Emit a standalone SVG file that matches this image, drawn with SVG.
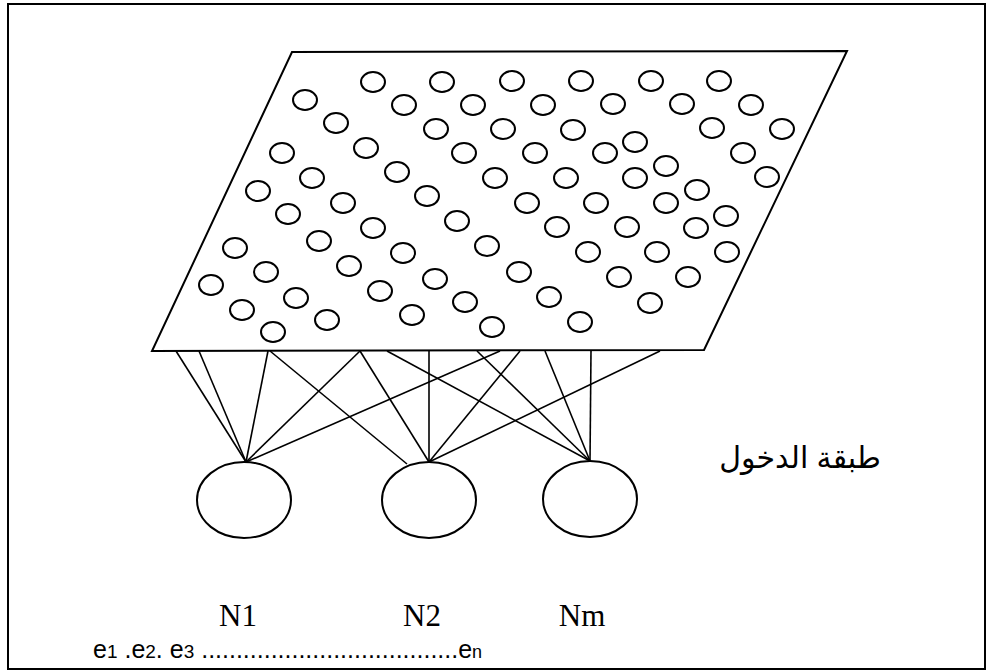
<svg xmlns="http://www.w3.org/2000/svg" width="987" height="671" viewBox="0 0 987 671">
  <style>
    .frame { fill: none; stroke: #000; stroke-width: 2; }
    .plane { fill: #fff; stroke: #000; stroke-width: 2; }
    .unit { fill: none; stroke: #000; stroke-width: 2; }
    .link { stroke: #000; stroke-width: 1.6; fill: none; }
    .neuron { fill: #fff; stroke: #000; stroke-width: 2; }
    .nlabel { font-family: "Liberation Serif", "Times New Roman", serif; font-size: 31px; fill: #000; }
    .seq { font-family: "Liberation Sans", Arial, sans-serif; font-size: 25px; fill: #000; }
    .ar { font-family: "Liberation Sans", "DejaVu Sans", "Noto Sans", sans-serif; font-size: 30px; fill: #000; }
  </style>
  <defs>
    <ellipse id="u" cx="0" cy="0" rx="12" ry="10" class="unit"/>
  </defs>

  <rect class="frame" x="8" y="4" width="977" height="665"/>

  <!-- connectors from the input plane to the output neurons -->
  <g id="connectors">
    <line class="link" x1="176" y1="351" x2="246" y2="462"/>
    <line class="link" x1="199" y1="351" x2="246" y2="462"/>
    <line class="link" x1="268" y1="351" x2="246" y2="462"/>
    <line class="link" x1="360" y1="351" x2="246" y2="462"/>
    <line class="link" x1="500" y1="351" x2="246" y2="462"/>
    <line class="link" x1="270" y1="351" x2="407" y2="464"/>
    <line class="link" x1="360" y1="351" x2="429" y2="462"/>
    <line class="link" x1="429" y1="351" x2="429" y2="462"/>
    <line class="link" x1="520" y1="351" x2="429" y2="462"/>
    <line class="link" x1="660" y1="351" x2="429" y2="462"/>
    <line class="link" x1="387" y1="351" x2="590" y2="461"/>
    <line class="link" x1="477" y1="351" x2="590" y2="461"/>
    <line class="link" x1="545" y1="351" x2="590" y2="461"/>
    <line class="link" x1="591" y1="351" x2="590" y2="461"/>
  </g>

  <!-- input layer plane with its units -->
  <g id="input-layer">
    <polygon class="plane" points="292,52 847,51 704,350 152,351"/>
    <g id="units">
      <use href="#u" x="373" y="82"/>
      <use href="#u" x="442" y="82"/>
      <use href="#u" x="512" y="81"/>
      <use href="#u" x="581" y="81"/>
      <use href="#u" x="651" y="81"/>
      <use href="#u" x="719" y="81"/>
      <use href="#u" x="305" y="100"/>
      <use href="#u" x="404" y="105"/>
      <use href="#u" x="473" y="105"/>
      <use href="#u" x="543" y="105"/>
      <use href="#u" x="613" y="104"/>
      <use href="#u" x="682" y="104"/>
      <use href="#u" x="751" y="105"/>
      <use href="#u" x="336" y="123"/>
      <use href="#u" x="436" y="129"/>
      <use href="#u" x="503" y="129"/>
      <use href="#u" x="573" y="130"/>
      <use href="#u" x="635" y="142"/>
      <use href="#u" x="712" y="128"/>
      <use href="#u" x="782" y="129"/>
      <use href="#u" x="282" y="153"/>
      <use href="#u" x="366" y="148"/>
      <use href="#u" x="464" y="153"/>
      <use href="#u" x="535" y="153"/>
      <use href="#u" x="605" y="153"/>
      <use href="#u" x="666" y="166"/>
      <use href="#u" x="743" y="153"/>
      <use href="#u" x="312" y="178"/>
      <use href="#u" x="397" y="172"/>
      <use href="#u" x="495" y="178"/>
      <use href="#u" x="566" y="178"/>
      <use href="#u" x="635" y="178"/>
      <use href="#u" x="767" y="177"/>
      <use href="#u" x="697" y="190"/>
      <use href="#u" x="258" y="191"/>
      <use href="#u" x="343" y="203"/>
      <use href="#u" x="427" y="196"/>
      <use href="#u" x="527" y="203"/>
      <use href="#u" x="596" y="203"/>
      <use href="#u" x="666" y="203"/>
      <use href="#u" x="726" y="216"/>
      <use href="#u" x="288" y="214"/>
      <use href="#u" x="373" y="228"/>
      <use href="#u" x="457" y="221"/>
      <use href="#u" x="557" y="227"/>
      <use href="#u" x="627" y="227"/>
      <use href="#u" x="696" y="228"/>
      <use href="#u" x="319" y="241"/>
      <use href="#u" x="235" y="248"/>
      <use href="#u" x="403" y="253"/>
      <use href="#u" x="487" y="246"/>
      <use href="#u" x="588" y="252"/>
      <use href="#u" x="657" y="252"/>
      <use href="#u" x="727" y="252"/>
      <use href="#u" x="349" y="266"/>
      <use href="#u" x="266" y="272"/>
      <use href="#u" x="435" y="279"/>
      <use href="#u" x="519" y="272"/>
      <use href="#u" x="619" y="277"/>
      <use href="#u" x="688" y="277"/>
      <use href="#u" x="211" y="285"/>
      <use href="#u" x="380" y="291"/>
      <use href="#u" x="296" y="298"/>
      <use href="#u" x="465" y="302"/>
      <use href="#u" x="549" y="297"/>
      <use href="#u" x="650" y="303"/>
      <use href="#u" x="242" y="310"/>
      <use href="#u" x="412" y="315"/>
      <use href="#u" x="327" y="320"/>
      <use href="#u" x="580" y="322"/>
      <use href="#u" x="273" y="332"/>
      <use href="#u" x="492" y="327"/>
    </g>
  </g>

  <text class="ar" x="800" y="468" text-anchor="middle">طبقة الدخول</text>

  <!-- output neurons -->
  <g id="N1">
    <ellipse class="neuron" cx="244" cy="500" rx="47" ry="38"/>
    <text class="nlabel" x="238" y="626" text-anchor="middle">N1</text>
  </g>
  <g id="N2">
    <ellipse class="neuron" cx="429" cy="500" rx="47" ry="38"/>
    <text class="nlabel" x="422" y="626" text-anchor="middle">N2</text>
  </g>
  <g id="Nm">
    <ellipse class="neuron" cx="590" cy="499" rx="47" ry="38"/>
    <text class="nlabel" x="582" y="626" text-anchor="middle">Nm</text>
  </g>

  <text class="seq" x="93" y="658">e<tspan font-size="19">1</tspan> .e<tspan font-size="19">2</tspan>. e<tspan font-size="19">3</tspan> .....................................e<tspan font-size="18">n</tspan></text>
</svg>
